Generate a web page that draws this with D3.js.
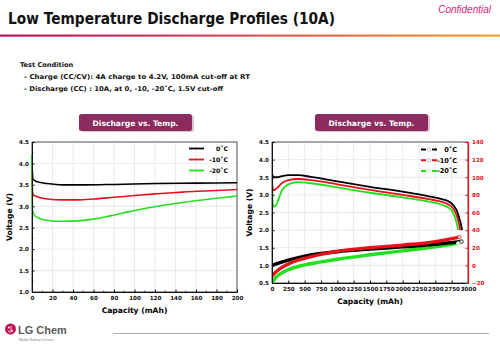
<!DOCTYPE html>
<html>
<head>
<meta charset="utf-8">
<script src="https://cdn.jsdelivr.net/npm/d3@7"></script>
<style>
  body { margin: 0; background: #fff; }
  svg { display: block; font-family: "DejaVu Sans", Verdana, sans-serif; }
</style>
</head>
<body>
<div id="chart"></div>
<script>
// left chart: first 200 mAh, voltage
const leftZero = [[0, 4.2], [0.4, 3.75], [1, 3.63], [5, 3.57], [15, 3.53], [30, 3.5], [50, 3.5], [80, 3.51], [120, 3.53], [160, 3.54], [200, 3.55]];
const leftMinus10 = [[0, 3.75], [0.4, 3.35], [1, 3.28], [5, 3.22], [15, 3.17], [30, 3.15], [45, 3.15], [60, 3.17], [80, 3.21], [100, 3.25], [120, 3.29], [140, 3.32], [160, 3.35], [180, 3.37], [200, 3.39]];
const leftMinus20 = [[0, 4.2], [0.4, 3.0], [1, 2.85], [5, 2.74], [15, 2.67], [30, 2.65], [45, 2.66], [60, 2.7], [75, 2.77], [90, 2.85], [110, 2.95], [130, 3.03], [150, 3.1], [170, 3.16], [185, 3.2], [200, 3.24]];

// right chart: full discharge, voltage
const rightZero = [[0, 3.6], [25, 3.5], [80, 3.5], [150, 3.53], [250, 3.56], [400, 3.56], [600, 3.51], [1000, 3.38], [1500, 3.23], [2000, 3.09], [2400, 2.96], [2600, 2.88], [2700, 2.82], [2780, 2.7], [2840, 2.5], [2880, 2.25], [2910, 2.0]];
const rightMinus10 = [[0, 3.3], [25, 3.13], [80, 3.2], [150, 3.33], [250, 3.42], [400, 3.45], [600, 3.42], [1000, 3.3], [1500, 3.14], [2000, 3.0], [2400, 2.88], [2600, 2.8], [2700, 2.73], [2780, 2.6], [2830, 2.4], [2860, 2.2], [2880, 2.0]];
const rightMinus20 = [[0, 4.2], [8, 2.8], [25, 2.66], [60, 2.7], [100, 2.88], [150, 3.12], [250, 3.3], [400, 3.36], [600, 3.33], [1000, 3.21], [1500, 3.06], [2000, 2.93], [2400, 2.81], [2600, 2.72], [2700, 2.64], [2770, 2.5], [2820, 2.25], [2850, 2.0]];

// right chart: cell temperature (deg C, right axis)
const tempZero = [[0, 0], [100, 2.5], [250, 6], [500, 10.5], [750, 13.5], [1000, 15.5], [1500, 18.5], [2000, 21], [2500, 24], [2900, 27]];
const tempMinus10 = [[0, -12], [100, -5], [250, 1.5], [500, 8], [750, 12.5], [1000, 16], [1500, 20], [2000, 23], [2500, 27], [2870, 32]];
const tempMinus20 = [[0, -19], [100, -11], [250, -5], [500, 0.5], [750, 4], [1000, 7], [1500, 12], [2000, 16.5], [2500, 21], [2850, 25]];

const seriesNames = ["  0\u02DAC", "-10\u02DAC", "-20\u02DAC"];
const seriesColors = ["#000000", "#e8101a", "#22e01e"];

const leftXTicks = d3.range(0, 201, 20);
const leftYTicks = d3.range(1.0, 4.51, 0.5);
const rightXTicks = d3.range(0, 3001, 250);
const rightYTicks = d3.range(0.5, 4.51, 0.5);
const tempTicks = d3.range(-20, 141, 20);

const W = 500, H = 346;
const svg = d3.select("#chart").append("svg").attr("width", W).attr("height", H);

// header
svg.append("text").attr("x", 8).attr("y", 24)
  .attr("font-size", 15.5).attr("font-weight", "bold").attr("fill", "#111")
  .attr("textLength", 327).attr("lengthAdjust", "spacingAndGlyphs")
  .text("Low Temperature Discharge Profiles (10A)");

svg.append("text").attr("x", 491).attr("y", 13).attr("text-anchor", "end")
  .attr("font-family", "Liberation Sans, Arial, sans-serif")
  .attr("font-size", 10).attr("font-style", "italic").attr("fill", "#e0207a")
  .text("Confidential");

const grad = svg.append("defs").append("linearGradient").attr("id", "hdr");
grad.append("stop").attr("offset", "0%").attr("stop-color", "#b8155a");
grad.append("stop").attr("offset", "45%").attr("stop-color", "#d84a5c");
grad.append("stop").attr("offset", "100%").attr("stop-color", "#f2a22e");
svg.append("rect").attr("x", 0).attr("y", 34.5).attr("width", 500).attr("height", 2.2).attr("fill", "url(#hdr)");

const cond = svg.append("g").attr("font-size", 6.6).attr("font-weight", "bold").attr("fill", "#111");
cond.append("text").attr("x", 20).attr("y", 67).text("Test Condition");
cond.append("text").attr("x", 24).attr("y", 79).attr("textLength", 226).attr("lengthAdjust", "spacingAndGlyphs")
  .text("- Charge (CC/CV): 4A charge to 4.2V, 100mA cut-off  at RT");
cond.append("text").attr("x", 24).attr("y", 91).attr("textLength", 199).attr("lengthAdjust", "spacingAndGlyphs")
  .text("- Discharge (CC) : 10A, at 0, -10, -20\u02DAC, 1.5V cut-off");

function titleBox(cx) {
  svg.append("rect").attr("x", cx - 56 + 1).attr("y", 115).attr("width", 113).attr("height", 17).attr("rx", 2.5)
    .attr("fill", "#d8c8d0");
  svg.append("rect").attr("x", cx - 57).attr("y", 114).attr("width", 113).attr("height", 17).attr("rx", 2.5)
    .attr("fill", "#8c2c5e");
  svg.append("text").attr("x", cx - 0.5).attr("y", 125.5).attr("text-anchor", "middle")
    .attr("font-size", 7.6).attr("font-weight", "bold").attr("fill", "#fff")
    .text("Discharge vs. Temp.");
}
titleBox(136);
titleBox(372);

function grid(g, x, y, xt, yt) {
  g.append("g").selectAll("line").data(xt).join("line")
    .attr("x1", d => x(d)).attr("x2", d => x(d)).attr("y1", y.range()[0]).attr("y2", y.range()[1])
    .attr("stroke", "#e4e4e4").attr("stroke-width", 0.8);
  g.append("g").selectAll("line").data(yt).join("line")
    .attr("y1", d => y(d)).attr("y2", d => y(d)).attr("x1", x.range()[0]).attr("x2", x.range()[1])
    .attr("stroke", "#e4e4e4").attr("stroke-width", 0.8);
}

function styleAxis(g, color) {
  g.attr("font-size", 5.6).attr("font-weight", "bold").attr("font-family", "DejaVu Sans, sans-serif");
  g.selectAll("path").attr("stroke", color);
  g.selectAll("line").attr("stroke", color);
  g.selectAll("text").attr("fill", color);
}

function minorTicks(g, scale, vals, orient, pos, color) {
  g.append("g").selectAll("line").data(vals).join("line")
    .attr(orient === "x" ? "x1" : "y1", d => scale(d)).attr(orient === "x" ? "x2" : "y2", d => scale(d))
    .attr(orient === "x" ? "y1" : "x1", pos).attr(orient === "x" ? "y2" : "x2", orient === "x" ? pos - 1.5 : (pos > 300 ? pos - 1.5 : pos + 1.5))
    .attr("stroke", color).attr("stroke-width", 0.7);
}

// ---------- left chart ----------
const L = { left: 32, right: 237, top: 142, bottom: 292 };
const lx = d3.scaleLinear().domain([0, 200]).range([L.left, L.right]);
const ly = d3.scaleLinear().domain([1.0, 4.5]).range([L.bottom, L.top]);
const gl = svg.append("g");
grid(gl, lx, ly, leftXTicks, leftYTicks);
gl.append("rect").attr("x", L.left).attr("y", L.top).attr("width", L.right - L.left).attr("height", L.bottom - L.top)
  .attr("fill", "none").attr("stroke", "#333").attr("stroke-width", 0.8);

const lline = d3.line().x(d => lx(d[0])).y(d => ly(d[1])).curve(d3.curveMonotoneX);
[leftZero, leftMinus10, leftMinus20].forEach((s, i) => {
  gl.append("path").datum(s).attr("d", lline).attr("fill", "none")
    .attr("stroke", seriesColors[i]).attr("stroke-width", 1.6);
});

const lxa = gl.append("g").attr("transform", `translate(0,${L.bottom})`)
  .call(d3.axisBottom(lx).tickValues(leftXTicks).tickFormat(d3.format("d")).tickSize(-2.5).tickPadding(4));
styleAxis(lxa, "#111");
const lya = gl.append("g").attr("transform", `translate(${L.left},0)`)
  .call(d3.axisLeft(ly).tickValues(leftYTicks).tickFormat(d3.format(".1f")).tickSize(-2.5).tickPadding(3));
styleAxis(lya, "#111");
minorTicks(gl, lx, d3.range(10, 200, 20), "x", L.bottom, "#111");
minorTicks(gl, ly, d3.range(1.25, 4.5, 0.5), "y", L.left, "#111");

gl.append("text").attr("x", lx(100)).attr("y", 313).attr("text-anchor", "middle")
  .attr("font-size", 7.6).attr("font-weight", "bold").text("Capacity (mAh)");
gl.append("text").attr("transform", `translate(12,${(L.top + L.bottom) / 2}) rotate(-90)`).attr("text-anchor", "middle")
  .attr("font-size", 7.6).attr("font-weight", "bold").text("Voltage (V)");

seriesNames.forEach((n, i) => {
  const yy = 148.5 + i * 11;
  gl.append("line").attr("x1", 189).attr("x2", 204).attr("y1", yy).attr("y2", yy)
    .attr("stroke", seriesColors[i]).attr("stroke-width", 1.8);
  gl.append("text").attr("x", 228).attr("y", yy + 2.2).attr("text-anchor", "end")
    .attr("font-size", 6.2).attr("font-weight", "bold").text(n.trim());
});

// ---------- right chart ----------
const R = { left: 272, right: 468, top: 142, bottom: 283 };
const rx = d3.scaleLinear().domain([0, 3000]).range([R.left, R.right]);
const ry = d3.scaleLinear().domain([0.5, 4.5]).range([R.bottom, R.top]);
const rt = d3.scaleLinear().domain([-20, 140]).range([R.bottom, R.top]);
const gr = svg.append("g");
grid(gr, rx, ry, rightXTicks, rightYTicks);
gr.append("rect").attr("x", R.left).attr("y", R.top).attr("width", R.right - R.left).attr("height", R.bottom - R.top)
  .attr("fill", "none").attr("stroke", "#333").attr("stroke-width", 0.8);

const clip = gr.append("clipPath").attr("id", "rclip").append("rect")
  .attr("x", R.left).attr("y", R.top).attr("width", R.right - R.left).attr("height", R.bottom - R.top);

const rline = d3.line().x(d => rx(d[0])).y(d => ry(d[1])).curve(d3.curveMonotoneX);
const tline = d3.line().x(d => rx(d[0])).y(d => rt(d[1])).curve(d3.curveMonotoneX);
const plot = gr.append("g").attr("clip-path", "url(#rclip)");
[tempMinus20, tempZero, tempMinus10].forEach((s, k) => {
  const i = [2, 0, 1][k];
  plot.append("path").datum(s).attr("d", tline).attr("fill", "none")
    .attr("stroke", seriesColors[i]).attr("stroke-width", 3.4);
});
[rightMinus20, rightMinus10, rightZero].forEach((s, k) => {
  const i = [2, 1, 0][k];
  plot.append("path").datum(s).attr("d", rline).attr("fill", "none")
    .attr("stroke", seriesColors[i]).attr("stroke-width", 1.8);
});
[tempZero, tempMinus10, tempMinus20].forEach((s, i) => {
  const last = s[s.length - 1];
  gr.append("circle").attr("cx", rx(last[0])).attr("cy", rt(last[1])).attr("r", 1.8)
    .attr("fill", "#fff").attr("stroke", i === 2 ? "#9ce89a" : seriesColors[i]).attr("stroke-width", 0.8);
});

const rxa = gr.append("g").attr("transform", `translate(0,${R.bottom})`)
  .call(d3.axisBottom(rx).tickValues(rightXTicks).tickFormat(d3.format("d")).tickSize(-2.5).tickPadding(4));
styleAxis(rxa, "#111");
const rya = gr.append("g").attr("transform", `translate(${R.left},0)`)
  .call(d3.axisLeft(ry).tickValues(rightYTicks).tickFormat(d3.format(".1f")).tickSize(-2.5).tickPadding(3));
styleAxis(rya, "#111");
const rta = gr.append("g").attr("transform", `translate(${R.right},0)`)
  .call(d3.axisRight(rt).tickValues(tempTicks).tickSize(-2.5).tickPadding(4));
styleAxis(rta, "#e8101a");
rta.select("path").attr("stroke-width", 1.2);

gr.append("text").attr("x", rx(1500)).attr("y", 304).attr("text-anchor", "middle")
  .attr("font-size", 7.6).attr("font-weight", "bold").text("Capacity (mAh)");
gr.append("text").attr("transform", `translate(252,${(R.top + R.bottom) / 2}) rotate(-90)`).attr("text-anchor", "middle")
  .attr("font-size", 7.6).attr("font-weight", "bold").text("Voltage (V)");

seriesNames.forEach((n, i) => {
  const yy = 149.5 + i * 10.7;
  gr.append("line").attr("x1", 421).attr("x2", 437).attr("y1", yy).attr("y2", yy)
    .attr("stroke", seriesColors[i]).attr("stroke-width", 2).attr("stroke-dasharray", "5,6,5");
  gr.append("circle").attr("cx", 429).attr("cy", yy).attr("r", 1.6)
    .attr("fill", "#fff").attr("stroke", i === 2 ? "#9ce89a" : "#999").attr("stroke-width", 0.6);
  gr.append("text").attr("x", 457).attr("y", yy + 2.4).attr("text-anchor", "end")
    .attr("font-size", 6.6).attr("font-weight", "bold").text(n.trim());
});

// ---------- footer ----------
const logo = svg.append("g");
logo.append("circle").attr("cx", 10.5).attr("cy", 329).attr("r", 5.5).attr("fill", "#c3165a");
logo.append("circle").attr("cx", 8.8).attr("cy", 327.5).attr("r", 0.9).attr("fill", "#fff");
logo.append("path").attr("d", "M8,331 Q10.5,333.5 13,330.5 M11,326 L11,331 L13,331").attr("fill", "none")
  .attr("stroke", "#fff").attr("stroke-width", 0.8);
logo.append("text").attr("x", 18).attr("y", 334).attr("font-family", "Liberation Sans, Arial, sans-serif")
  .attr("font-size", 11).attr("font-weight", "bold").attr("fill", "#5a5a5a").text("LG Chem");
logo.append("text").attr("x", 19).attr("y", 340.5).attr("font-family", "Liberation Sans, Arial, sans-serif")
  .attr("font-size", 3.4).attr("fill", "#888").text("Mobile Battery Division");
svg.append("line").attr("x1", 113).attr("x2", 489).attr("y1", 333.5).attr("y2", 333.5)
  .attr("stroke", "#999").attr("stroke-width", 0.8);
</script>
</body>
</html>
